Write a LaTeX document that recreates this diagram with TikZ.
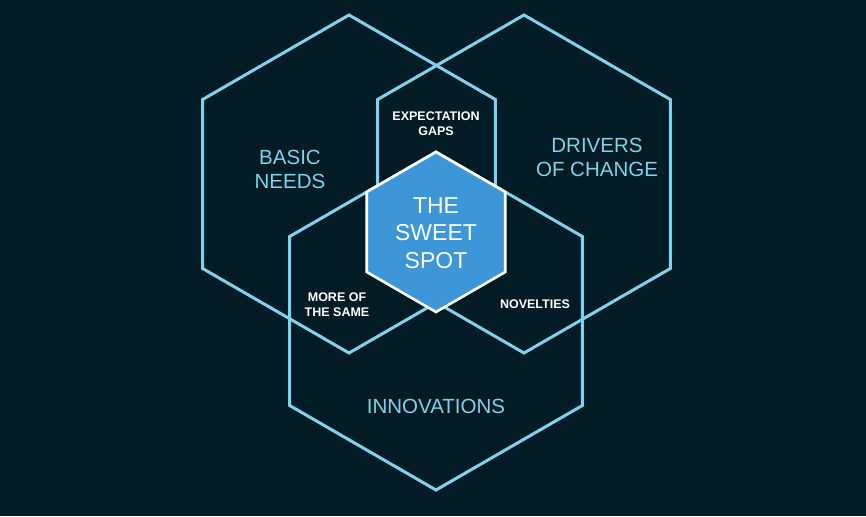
\documentclass[tikz,border=0pt]{standalone}
\usepackage{fontspec}
\setmainfont{Liberation Sans}
\usetikzlibrary{shapes.geometric}
\definecolor{bgdark}{HTML}{021B24}
\definecolor{hexline}{HTML}{7FD3EE}
\definecolor{sweetfill}{HTML}{3D96D8}
\tikzset{
  hexa/.style={regular polygon, regular polygon sides=6, shape border rotate=30,
    minimum size=338pt, inner sep=0pt, draw=hexline, line width=3pt},
  biglabel/.style={text=hexline, font=\fontsize{20.5}{24}\selectfont, align=center},
  smalllabel/.style={text=white, font=\bfseries\fontsize{12.5}{15}\selectfont, align=center}
}
\begin{document}
\begin{tikzpicture}[x=1pt,y=-1pt]
\fill[bgdark] (0,0) rectangle (866,516);
\useasboundingbox (0,0) rectangle (866,516);
\node[hexa] (needs) at (349,184) {};
\node[hexa] (drivers) at (524,184) {};
\node[hexa] (innov) at (436,321) {};
\node[hexa, minimum size=160pt, fill=sweetfill, draw=white, line width=2.6pt] (sweet) at (436,232) {};
\node[text=white, font=\fontsize{23}{27.5}\selectfont, align=center] (sweettext) at (436,233) {THE\\SWEET\\SPOT};
\node[biglabel] (needstext) at (290,169) {BASIC\\NEEDS};
\node[biglabel] (driverstext) at (597,157) {DRIVERS\\OF CHANGE};
\node[biglabel] (innovtext) at (436,406) {INNOVATIONS};
\node[smalllabel] (gaps) at (436,124) {EXPECTATION\\GAPS};
\node[smalllabel] (same) at (337,305) {MORE OF\\THE SAME};
\node[smalllabel] (novel) at (535,304) {NOVELTIES};
\end{tikzpicture}
\end{document}
